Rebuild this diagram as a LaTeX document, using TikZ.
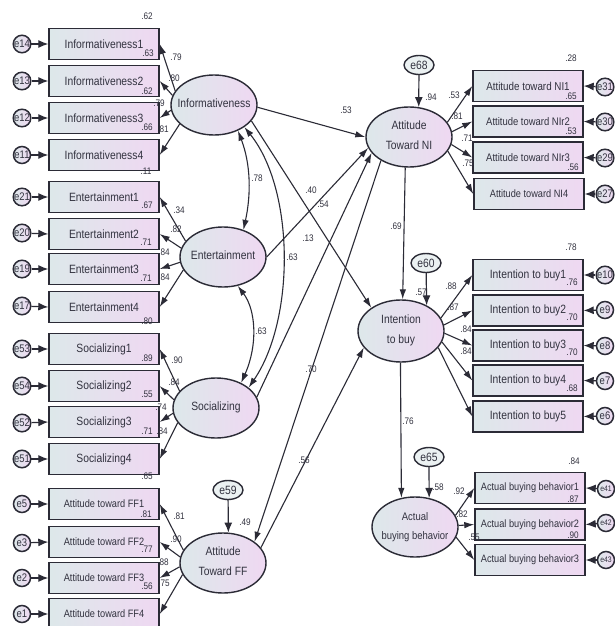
\documentclass[tikz,border=0pt]{standalone}
\usepackage{fontspec}
\setmainfont[FakeStretch=0.86]{Liberation Sans}
\usetikzlibrary{shapes.geometric,arrows.meta}
\definecolor{ink}{HTML}{2B2B36}
\definecolor{txt}{HTML}{32323F}
\definecolor{shL}{HTML}{DDE8EA}
\definecolor{shR}{HTML}{EFD8F2}
\tikzset{
  x=1pt,y=-1pt,
  ind/.style={draw=ink,line width=1.4pt,rectangle,minimum width=110pt,minimum height=31pt,inner sep=0pt,left color=shL,right color=shR,text=txt,font=\fontsize{12}{13}\selectfont},
  indsm/.style={ind,font=\fontsize{10.7}{12}\selectfont},
  indni/.style={ind,font=\fontsize{11.4}{13}\selectfont},
  lat/.style={draw=ink,line width=1.4pt,ellipse,minimum width=86pt,minimum height=60pt,inner sep=0pt,left color=shL,right color=shR,text=txt,font=\fontsize{12}{15}\selectfont},
  err/.style={draw=ink,line width=1.5pt,circle,minimum size=17pt,inner sep=0pt,left color=shL,right color=shR,text=txt,font=\fontsize{11}{12}\selectfont},
  errtiny/.style={err,font=\fontsize{8}{9}\selectfont},
  errov/.style={draw=ink,line width=1.4pt,ellipse,minimum width=30pt,minimum height=19pt,inner sep=0pt,fill=shL!60!white,text=txt,font=\fontsize{12}{13}\selectfont},
  arr/.style={draw=ink,line width=1.1pt,-{Latex[length=10pt,width=6.5pt]}},
  arrb/.style={draw=ink,line width=1.1pt,{Latex[length=10pt,width=6.5pt]}-{Latex[length=10pt,width=6.5pt]}},
  erra/.style={draw=ink,line width=1.2pt,-{Latex[length=10pt,width=8pt]}},
  val/.style={text=txt,inner sep=0pt,font=\fontsize{9.5}{10}\selectfont}
}
\newcommand{\val}[3]{\node[val] (v#1x#2) at (#1,#2) {#3};}
\newcommand{\lattext}[1]{\raisebox{-3.5pt}{\smash{\makebox[0pt]{\renewcommand{\arraystretch}{1.28}\begin{tabular}{@{}c@{}}#1\end{tabular}}}}}
\begin{document}
\begin{tikzpicture}
\path[use as bounding box,fill=white] (0,0) rectangle (615,626);
% left indicators
\node[ind] (i1) at (104,44) {Informativeness1};
\node[ind] (i2) at (104,81) {Informativeness2};
\node[ind] (i3) at (104,118) {Informativeness3};
\node[ind] (i4) at (104,155) {Informativeness4};
\node[ind] (n1) at (104,197) {Entertainment1};
\node[ind] (n2) at (104,234) {Entertainment2};
\node[ind] (n3) at (104,269) {Entertainment3};
\node[ind] (n4) at (104,307) {Entertainment4};
\node[ind] (s1) at (104,349) {Socializing1};
\node[ind] (s2) at (104,386) {Socializing2};
\node[ind] (s3) at (104,422) {Socializing3};
\node[ind] (s4) at (104,459) {Socializing4};
\node[indsm] (f1) at (104,504) {Attitude toward FF1};
\node[indsm] (f2) at (104,542) {Attitude toward FF2};
\node[indsm] (f3) at (104,578) {Attitude toward FF3};
\node[indsm] (f4) at (104,614) {Attitude toward FF4};
% left errors
\foreach \nm/\yy/\tg in {i1/44/e14,i2/81/e13,i3/118/e12,i4/155/e11,n1/197/e21,n2/233/e20,n3/269/e19,n4/306/e17,s1/349/e53,s2/386/e54,s3/423/e52,s4/459/e51,f1/504/e5,f2/543/e3,f3/578/e2,f4/614/e1}{
  \node[err] (\tg) at (22,\yy) {\tg};
  \draw[erra] (\tg) -- (\nm.west);
}
% right indicators
\node[indni] (a1) at (528,86) {Attitude toward NI1};
\node[indni,font=\fontsize{11}{13}\selectfont] (a2) at (528,121.5) {Attitude toward NIr2};
\node[indni,font=\fontsize{11}{13}\selectfont] (a3) at (528,157.5) {Attitude toward NIr3};
\node[indsm] (a4) at (529,194) {Attitude toward NI4};
\node[ind] (b1) at (528,275) {Intention to buy1};
\node[ind] (b2) at (528,310.5) {Intention to buy2};
\node[ind] (b3) at (528,345.5) {Intention to buy3};
\node[ind] (b4) at (528,380.5) {Intention to buy4};
\node[ind] (b5) at (528,416.5) {Intention to buy5};
\node[indsm] (c1) at (530,488) {Actual buying behavior1};
\node[indsm] (c2) at (530,524.5) {Actual buying behavior2};
\node[indsm] (c3) at (530,560) {Actual buying behavior3};
% right errors
\foreach \nm/\yy/\xx/\tg/\st in {a1/87/605/e31/err,a2/122/605/e30/err,a3/158/605/e29/err,a4/194/605/e27/err,b1/275/605/e10/err,b2/310/605/e9/err,b3/346/605/e8/err,b4/381/605/e7/err,b5/416/605/e6/err,c1/489/606/e41/errtiny,c2/523/606/e42/errtiny,c3/560/606/e43/errtiny}{
  \node[\st] (\tg) at (\xx,\yy) {\tg};
  \draw[erra] (\tg) -- (\nm.east);
}
% latents
\node[lat] (inf) at (214,105) {\lattext{Informativeness}};
\node[lat] (ent) at (223,257) {\lattext{Entertainment}};
\node[lat] (soc) at (216,408) {\lattext{Socializing}};
\node[lat] (ff) at (223,563) {\lattext{Attitude\\Toward FF}};
\node[lat] (ni) at (409,137) {\lattext{Attitude\\Toward NI}};
\node[lat,minimum height=62pt] (int) at (401,331) {\lattext{Intention\\to buy}};
\node[lat,font=\fontsize{11}{15}\selectfont] (act) at (415,527) {\lattext{Actual\\buying behavior}};
\node[errov] (e68) at (419,65) {e68};
\node[errov] (e60) at (426,263) {e60};
\node[errov] (e65) at (429,457) {e65};
\node[errov] (e59) at (228,490) {e59};
% loadings
\foreach \lat/\ang/\bx in {inf/160/i1,inf/167/i2,inf/187/i3,inf/209/i4,ent/157/n1,ent/168/n2,ent/187/n3,ent/198/n4,soc/155/s1,soc/169/s2,soc/187/s3,soc/201/s4,ff/162/f1,ff/172/f2,ff/185/f3,ff/196/f4}{
  \draw[arr] (\lat.\ang) -- (\bx.east);
}
\foreach \lat/\ang/\bx in {ni/21/a1,ni/7/a2,ni/-10/a3,ni/-20/a4,int/18/b1,int/8/b2,int/-3/b3,int/-15/b4,int/-24/b5,act/16/c1,act/2/c2,act/-14/c3}{
  \draw[arr] (\lat.\ang) -- (\bx.west);
}
% structural
\draw[arr] (inf.-3) -- (ni.180);
\draw[arr] (inf.-23) -- (int.142);
\draw[arr] (ent.0) -- (ni.195);
\draw[arr] (soc.15) -- (ni.203);
\draw[arr] (ni.220) -- (ff.34);
\draw[arr] (ff.22) -- (int.204);
\draw[arr] (ni.263) -- (int.87);
\draw[arr] (int.-91) -- (act.115);
\draw[erra] (e68) -- (ni.72);
\draw[erra] (e60) -- (int.45);
\draw[erra] (e65) -- (act.64);
\draw[erra] (e59) -- (ff.80);
% covariances
\draw[arrb] (inf.313) .. controls (251,165) and (251,195) .. (ent.53);
\draw[arrb] (inf.324) .. controls (295,190) and (295,320) .. (soc.32);
\draw[arrb] (ent.297) .. controls (256,310) and (258,345) .. (soc.45);
% values
\val{147}{16}{.62}\val{176}{57}{.79}\val{148}{53}{.63}\val{174}{78}{.80}\val{147}{91}{.62}
\val{159}{103}{.79}\val{147}{127}{.66}\val{163}{129}{.81}\val{146}{171}{.11}
\val{179}{210}{.34}\val{147}{205}{.67}\val{176}{229}{.82}\val{146}{242}{.71}\val{164}{252}{.84}
\val{146}{278}{.71}\val{164}{277}{.84}\val{147}{321}{.80}
\val{177}{360}{.90}\val{147}{358}{.89}\val{174}{382}{.84}\val{147}{394}{.55}\val{161}{407}{.74}
\val{147}{431}{.71}\val{162}{431}{.84}\val{147}{476}{.65}
\val{179}{516}{.81}\val{146}{514}{.81}\val{176}{539}{.90}\val{147}{549}{.77}\val{163}{562}{.88}
\val{147}{586}{.56}\val{164}{583}{.75}\val{245}{522}{.49}
\val{257}{178}{.78}\val{346}{110}{.53}\val{311}{190}{.40}\val{323}{204}{.54}\val{308}{238}{.13}
\val{292}{257}{.63}\val{261}{331}{.63}\val{311}{369}{.70}\val{304}{460}{.56}\val{396}{226}{.69}\val{408}{421}{.76}
\val{431}{97}{.94}\val{454}{95}{.53}\val{457}{116}{.81}\val{467}{138}{.71}\val{468}{163}{.75}
\val{571}{58}{.28}\val{571}{96}{.65}\val{571}{131}{.53}\val{573}{167}{.56}
\val{571}{247}{.78}\val{572}{282}{.76}\val{572}{317}{.70}\val{572}{352}{.70}\val{572}{388}{.68}
\val{451}{286}{.88}\val{453}{307}{.87}\val{466}{329}{.84}\val{466}{351}{.84}\val{421}{292}{.57}
\val{438}{487}{.58}\val{459}{491}{.92}\val{462}{514}{.82}\val{474}{537}{.55}
\val{574}{461}{.84}\val{573}{499}{.87}\val{573}{535}{.90}
\end{tikzpicture}
\end{document}
